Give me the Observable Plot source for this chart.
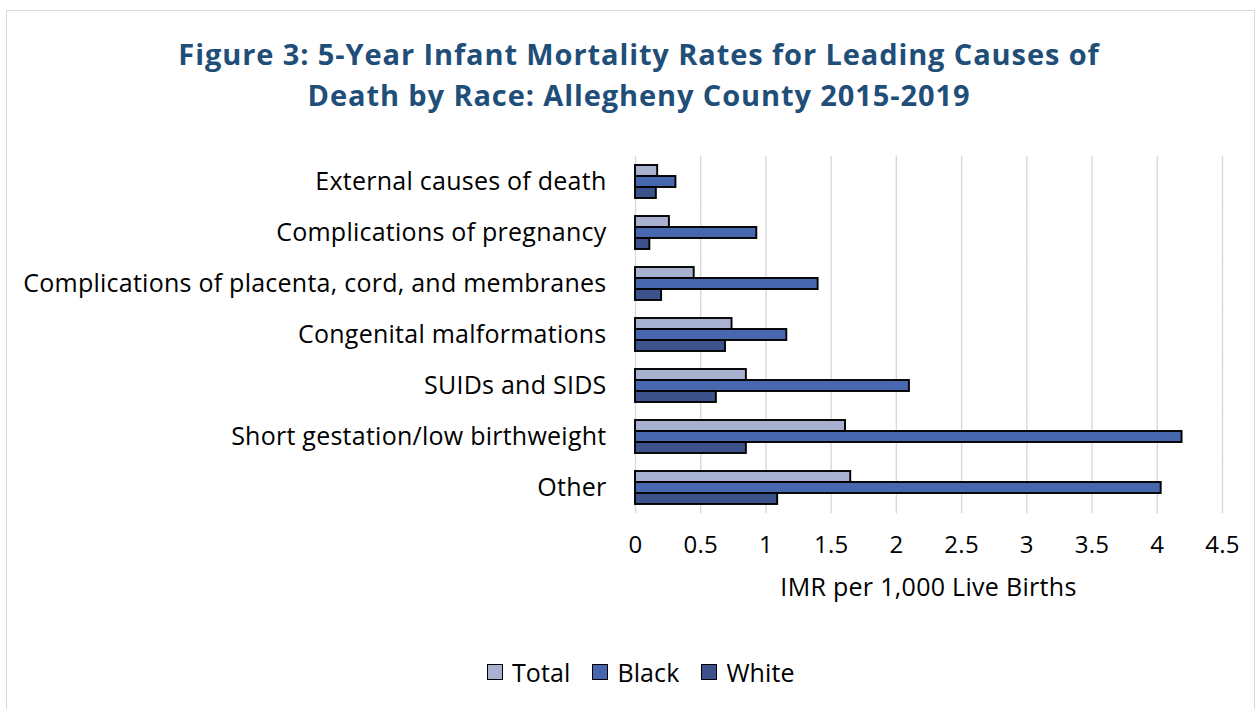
<!DOCTYPE html>
<html>
<head>
<meta charset="utf-8">
<script src="https://cdn.jsdelivr.net/npm/d3@7"></script>
<script src="https://cdn.jsdelivr.net/npm/@observablehq/plot@0.6"></script>
<style>
  body { margin: 0; background: #fff; }
  #wrap { position: relative; width: 1259px; height: 709px; overflow: hidden; font-family: "Open Sans", sans-serif; color: #000; }
  #border { position: absolute; left: 6px; top: 10px; width: 1249px; height: 760px; border: 1.5px solid #d9d9d9; box-sizing: border-box; }
  #title { position: absolute; left: 0; top: 33px; width: 1278px; text-align: center; font-weight: 700; font-size: 29px; letter-spacing: 0.9px; line-height: 41px; color: #1F4E79; }
  #chart { position: absolute; left: 0; top: 140px; }
  #xlabel { position: absolute; left: 635px; width: 587px; top: 574px; text-align: center; font-size: 25px; letter-spacing: 0.3px; line-height: 24px; }
  #legend { position: absolute; left: 487px; top: 656px; display: flex; align-items: center; font-size: 25px; letter-spacing: 0.1px; line-height: 32px; }
  .item { display: flex; align-items: center; margin-right: 22px; }
  .sw { width: 16px; height: 16px; border: 1.5px solid #000; box-sizing: border-box; margin-right: 9px; }
  #chart svg text { letter-spacing: 0.25px; }
</style>
</head>
<body>
<div id="wrap">
  <div id="border"></div>
  <div id="title">Figure 3: 5-Year Infant Mortality Rates for Leading Causes of<br>Death by Race: Allegheny County 2015-2019</div>
  <div id="chart"></div>
  <div id="xlabel">IMR per 1,000 Live Births</div>
  <div id="legend"></div>
</div>
<script>
const causes = [
  "External causes of death",
  "Complications of pregnancy",
  "Complications of placenta, cord, and membranes",
  "Congenital malformations",
  "SUIDs and SIDS",
  "Short gestation/low birthweight",
  "Other"
];
const races = ["Total", "Black", "White"];
const totalValues = [0.17, 0.26, 0.45, 0.74, 0.85, 1.61, 1.65];
const blackValues = [0.31, 0.93, 1.40, 1.16, 2.10, 4.19, 4.03];
const whiteValues = [0.16, 0.11, 0.20, 0.69, 0.62, 0.85, 1.09];
const raceColors = ["#A9B1D0", "#4767AF", "#3C528A"];
const xTicks = [0, 0.5, 1, 1.5, 2, 2.5, 3, 3.5, 4, 4.5];

const seriesValues = [totalValues, blackValues, whiteValues];
const data = [];
causes.forEach((c, i) => {
  races.forEach((r, j) => data.push({cause: c, race: r, value: seriesValues[j][i]}));
});

const chart = Plot.plot({
  width: 1259,
  height: 474,
  marginTop: 14,
  marginBottom: 100,
  marginLeft: 635,
  marginRight: 37,
  style: {fontSize: "25px", fontFamily: "'Open Sans', sans-serif", color: "#000", background: "transparent"},
  x: {domain: [0, 4.5]},
  y: {domain: races, axis: null, padding: 0},
  fy: {domain: causes, paddingInner: 0.358, paddingOuter: 0.179, axis: null},
  color: {domain: races, range: raceColors},
  marks: [
    Plot.gridX({ticks: xTicks, stroke: "#d9d9d9", strokeOpacity: 1, strokeWidth: 1.4, insetTop: -9.3, insetBottom: -9.3}),
    Plot.barX(data, {x: "value", y: "race", fy: "cause", fill: "race", stroke: "#000", strokeWidth: 1.9}),
    Plot.axisFy({anchor: "left", tickSize: 0, tickPadding: 29, label: null, fontSize: 25}),
    Plot.axisX({ticks: xTicks, tickSize: 0, tickPadding: 31, label: null, fontSize: 24, tickFormat: d => String(d)})
  ]
});
document.getElementById("chart").appendChild(chart);

const legend = document.getElementById("legend");
races.forEach((r, j) => {
  const item = document.createElement("div");
  item.className = "item";
  const sw = document.createElement("div");
  sw.className = "sw";
  sw.style.background = raceColors[j];
  const t = document.createElement("span");
  t.textContent = r;
  item.appendChild(sw);
  item.appendChild(t);
  legend.appendChild(item);
});
</script>
</body>
</html>
